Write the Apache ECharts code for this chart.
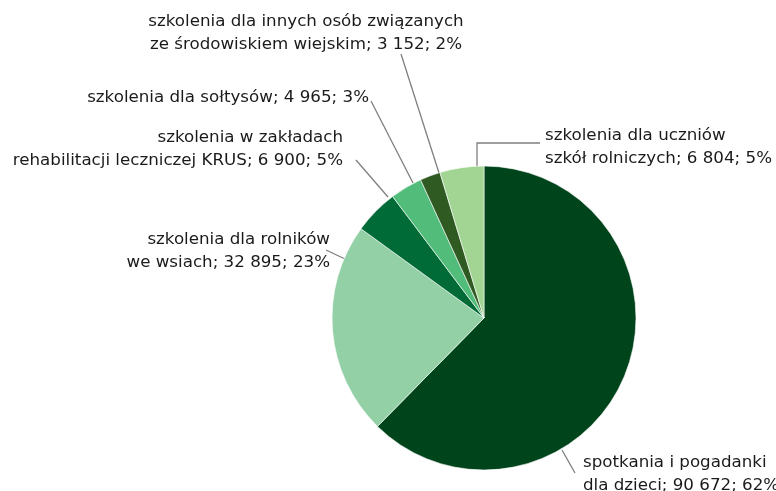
<!DOCTYPE html>
<html lang="pl">
<head>
	<meta charset="UTF-8">
	<title>pie</title>
	<style>
		html, body { margin: 0; padding: 0; background: #fff; }
	</style>
</head>
<body>
	<div id="main" style="width: 776px;height: 491px"></div>
	<script src="https://cdn.jsdelivr.net/npm/echarts@6/dist/echarts.min.js"></script>
	<script>
		// dane
		var names = [
			'spotkania i pogadanki\ndla dzieci',
			'szkolenia dla rolników\nwe wsiach',
			'szkolenia w zakładach\nrehabilitacji leczniczej KRUS',
			'szkolenia dla sołtysów',
			'szkolenia dla innych osób związanych\nze środowiskiem wiejskim',
			'szkolenia dla uczniów\nszkół rolniczych'
		];
		var values = [90672, 32895, 6900, 4965, 3152, 6804];
		var colors = ['#00441b', '#93d0a6', '#006b37', '#52bd7b', '#2f5a22', '#a2d594'];

		// gdzie stoją opisy i linie odniesienia
		var spots = [
			{ x: 583, y: 474, align: 'left', line: [[562, 450], [575, 473], [575, 473]] },
			{ x: 330, y: 251, align: 'right', line: [[345, 259], [326, 250], [326, 250]] },
			{ x: 343, y: 149, align: 'right', line: [[388, 197], [356, 160], [356, 160]] },
			{ x: 369, y: 98, align: 'right', line: [[413, 183], [371, 101], [371, 101]] },
			{ x: 306, y: 33, align: 'center', line: [[439, 173], [401, 54], [401, 54]] },
			{ x: 545, y: 147, align: 'left', line: [[477, 167], [477, 143], [540, 143]] }
		];

		var total = values.reduce(function (a, b) { return a + b; }, 0);
		function fmt(v) {
			return String(v).replace(/\B(?=(\d{3})+(?!\d))/g, ' ');
		}

		var data = names.map(function (n, i) {
			return { name: n, value: values[i], itemStyle: { color: colors[i] } };
		});

		var myChart = echarts.init(document.getElementById('main'));
		var option = {
			animation: false,
			series: [{
				type: 'pie',
				center: [484, 318],
				radius: 152,
				startAngle: 90,
				clockwise: true,
				data: data,
				itemStyle: { borderColor: '#fff', borderWidth: 0.6 },
				label: {
					show: true,
					position: 'outside',
					color: '#1a1a1a',
					fontFamily: 'DejaVu Sans',
					fontSize: 16.7,
					lineHeight: 23,
					overflow: 'none',
					formatter: function (p) {
						return p.name + '; ' + fmt(p.value) + '; ' + Math.round(p.value / total * 100) + '%';
					}
				},
				labelLine: {
					show: true,
					lineStyle: { color: '#7f7f7f', width: 1.3 }
				},
				labelLayout: function (p) {
					var s = spots[p.dataIndex];
					return {
						x: s.x,
						y: s.y,
						align: s.align,
						verticalAlign: 'middle',
						labelLinePoints: s.line
					};
				}
			}]
		};
		myChart.setOption(option);
	</script>
</body>
</html>
